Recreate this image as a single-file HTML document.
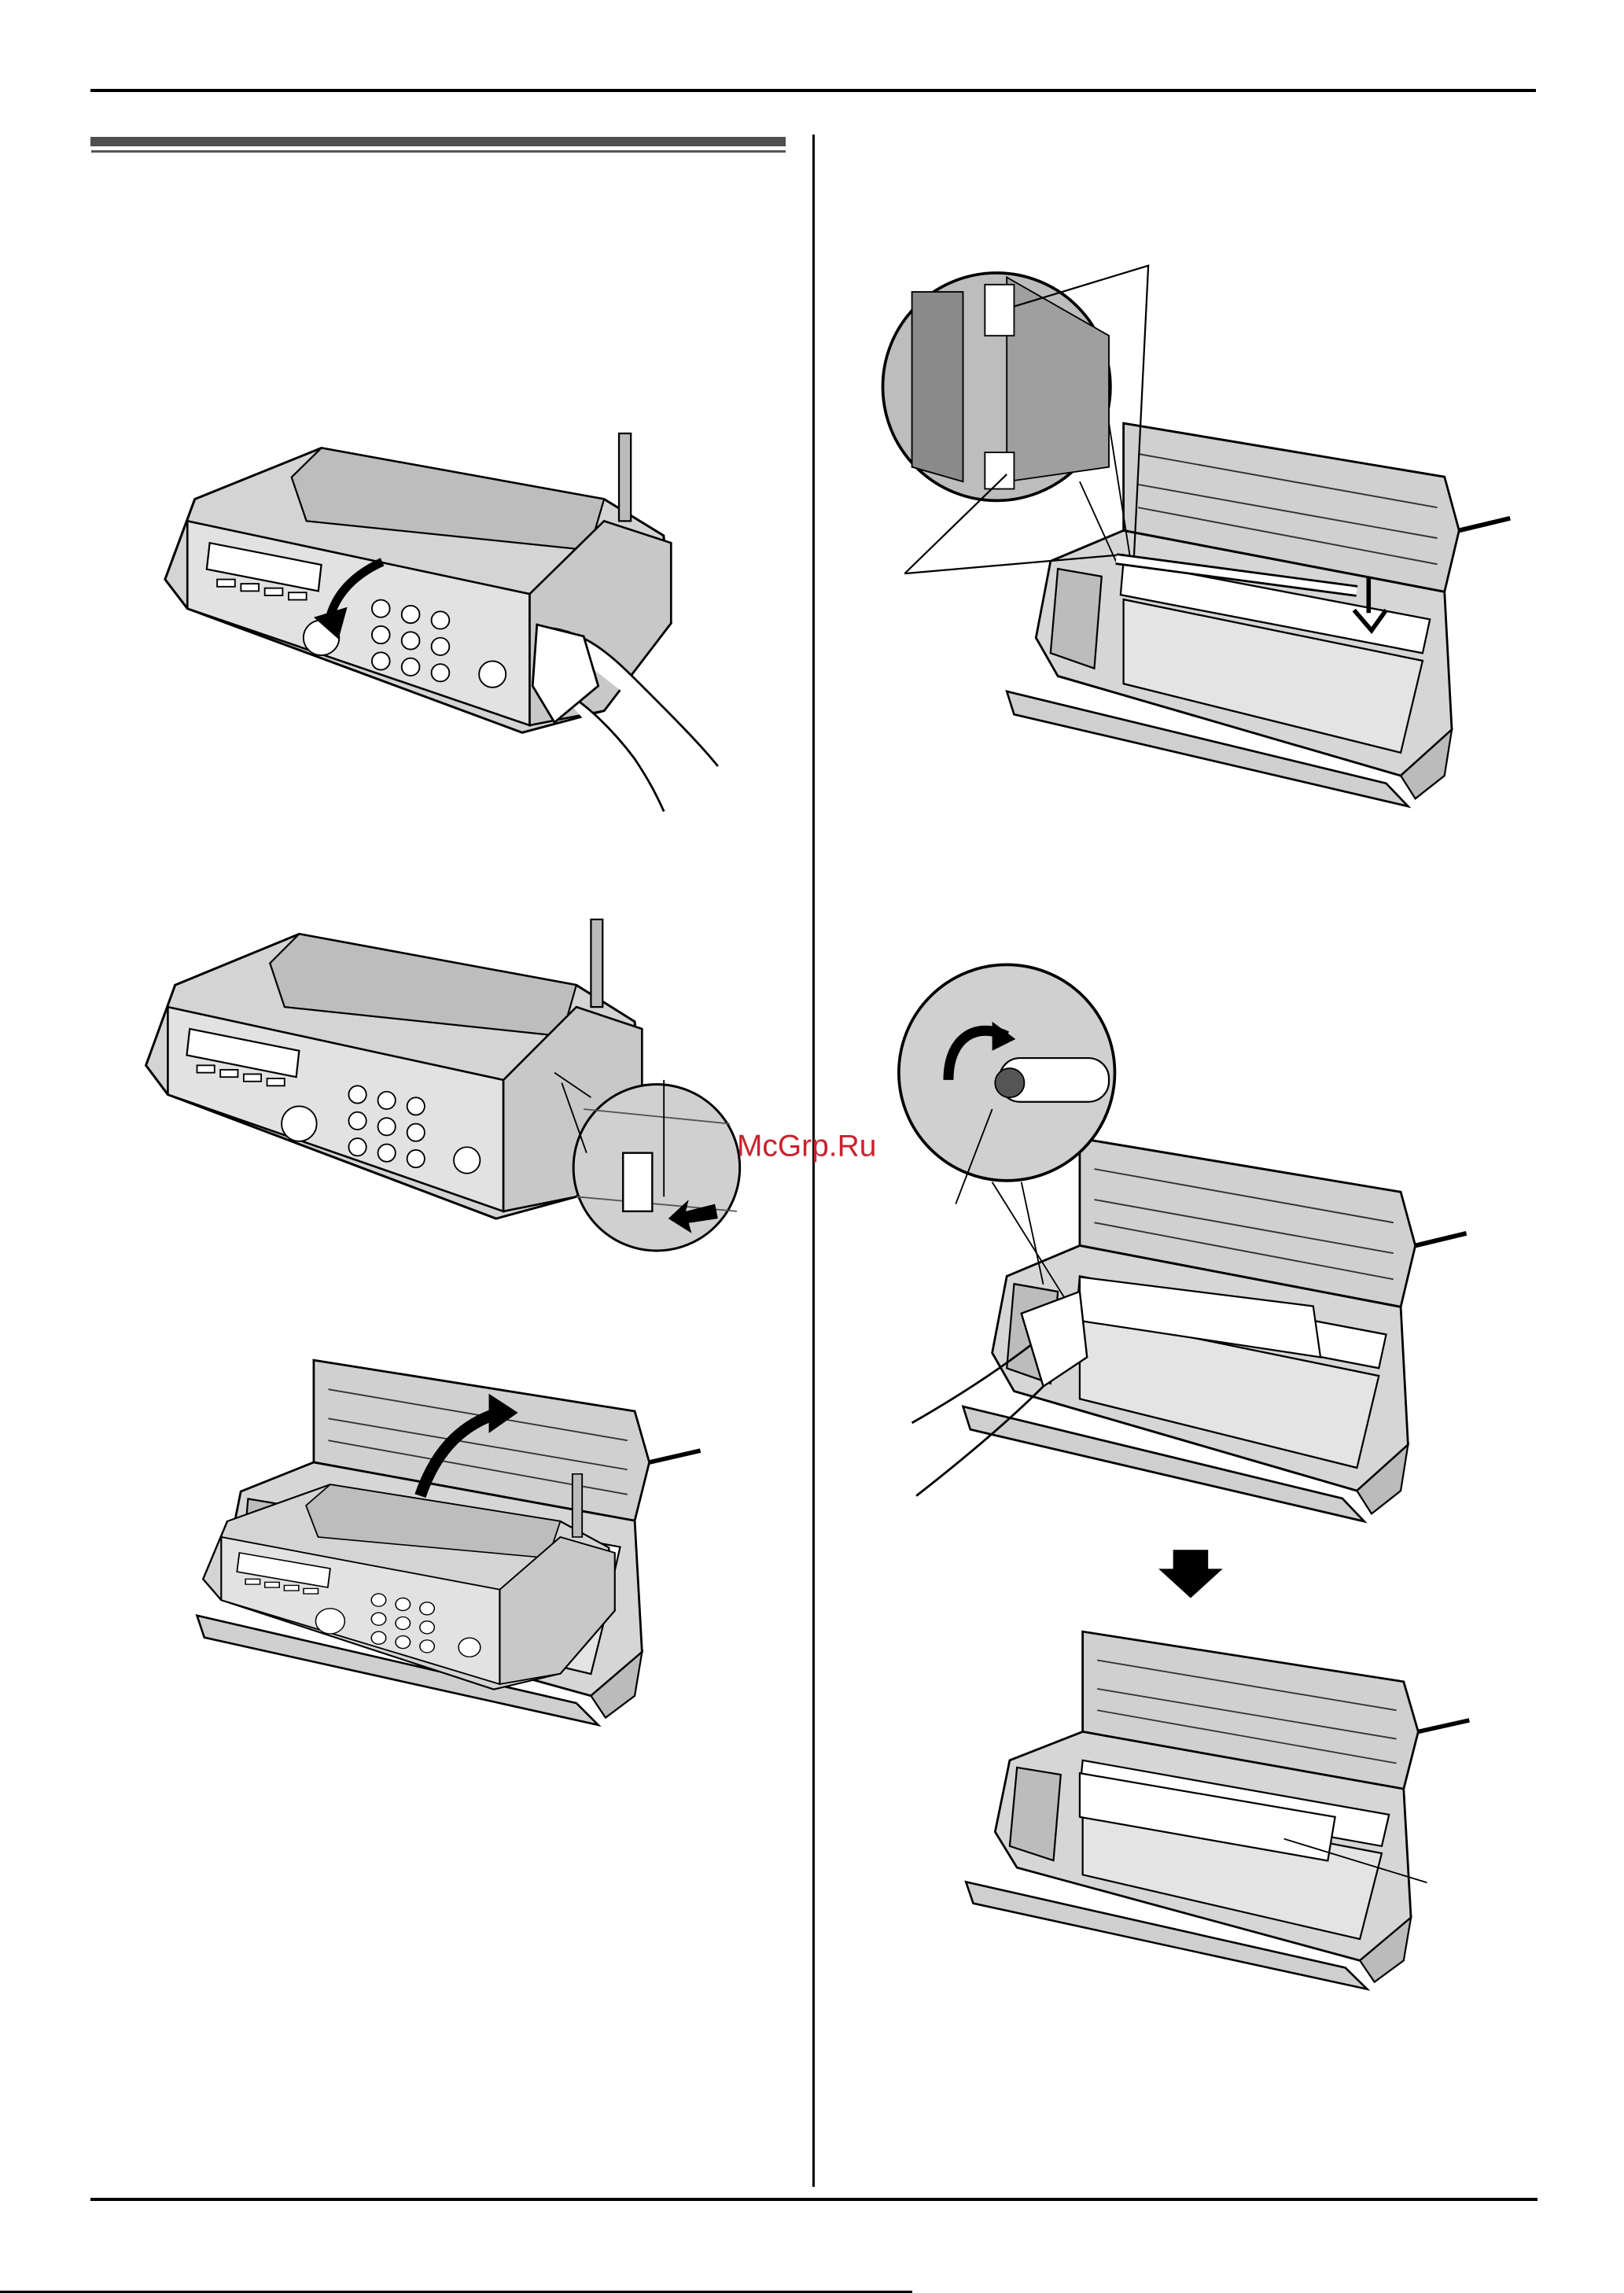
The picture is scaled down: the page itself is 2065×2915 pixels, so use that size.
<!DOCTYPE html>
<html><head><meta charset="utf-8"><style>
html,body{margin:0;padding:0;background:#fff;}
body{width:2065px;height:2915px;position:relative;overflow:hidden;font-family:"Liberation Sans",sans-serif;}
svg{position:absolute;left:0;top:0;}
</style></head><body>
<svg width="2065" height="2915" viewBox="0 0 2065 2915" xmlns="http://www.w3.org/2000/svg">
<rect x="115" y="113" width="1838" height="4" fill="#000"/>
<rect x="115" y="174" width="884" height="12" fill="#4f4f4f"/>
<rect x="116" y="191" width="883" height="3" fill="#555"/>
<rect x="1033" y="171" width="3" height="2609" fill="#000"/>
<rect x="115" y="2794" width="1840" height="4" fill="#000"/>
<rect x="0" y="2912" width="1160" height="3" fill="#000"/>
</svg>
<svg width="2065" height="2915" viewBox="0 0 1113 1571.2" xmlns="http://www.w3.org/2000/svg">
<defs>
<g id="fax">
<!-- closed fax body, local coords approx 0..400 x 0..260 -->
<path d="M25 45 L110 10 L300 45 L340 70 L345 130 L300 190 L245 205 L20 120 L5 100 Z" fill="#d4d4d4" stroke="#000" stroke-width="1.6"/>
<path d="M90 30 L110 10 L300 45 L290 80 L100 60 Z" fill="#bdbdbd" stroke="#000" stroke-width="1.2"/>
<path d="M20 60 L250 110 L250 200 L20 120 Z" fill="#e2e2e2" stroke="#000" stroke-width="1.4"/>
<path d="M35 75 L110 90 L108 108 L33 93 Z" fill="#fff" stroke="#000" stroke-width="1.2"/>
<g fill="#fff" stroke="#000" stroke-width="1">
<circle cx="150" cy="120" r="6"/><circle cx="170" cy="124" r="6"/><circle cx="190" cy="128" r="6"/>
<circle cx="150" cy="138" r="6"/><circle cx="170" cy="142" r="6"/><circle cx="190" cy="146" r="6"/>
<circle cx="150" cy="156" r="6"/><circle cx="170" cy="160" r="6"/><circle cx="190" cy="164" r="6"/>
<circle cx="110" cy="140" r="12"/><circle cx="225" cy="165" r="9"/>
<rect x="40" y="100" width="12" height="5"/><rect x="56" y="103" width="12" height="5"/><rect x="72" y="106" width="12" height="5"/><rect x="88" y="109" width="12" height="5"/>
</g>
<path d="M250 110 L300 60 L345 75 L345 130 L300 190 L250 200 Z" fill="#c8c8c8" stroke="#000" stroke-width="1.4"/>
<path d="M310 0 L318 0 L318 60 L310 60 Z" fill="#bbb" stroke="#000" stroke-width="1.2"/>
</g>
<g id="open">
<!-- open fax, local coords 0..340 x 0..240 -->
<path d="M80 0 L300 35 L310 70 L300 110 L80 70 Z" fill="#d0d0d0" stroke="#000" stroke-width="1.5"/>
<path d="M90 20 L295 55 M90 40 L295 75 M90 55 L295 92" stroke="#333" stroke-width="1" fill="none"/>
<path d="M310 70 L345 62" stroke="#000" stroke-width="3"/>
<path d="M30 90 L80 70 L300 110 L305 200 L270 230 L35 165 L20 140 Z" fill="#d6d6d6" stroke="#000" stroke-width="1.5"/>
<path d="M35 95 L65 100 L60 160 L30 150 Z" fill="#bcbcbc" stroke="#000" stroke-width="1.2"/>
<path d="M80 90 L290 128 L285 150 L78 112 Z" fill="#fff" stroke="#000" stroke-width="1.2"/>
<path d="M80 115 L285 155 L270 215 L80 170 Z" fill="#e4e4e4" stroke="#000" stroke-width="1.2"/>
<path d="M0 175 L260 235 L275 250 L5 190 Z" fill="#cfcfcf" stroke="#000" stroke-width="1.4"/>
<path d="M270 230 L305 200 L300 230 L280 245 Z" fill="#bbb" stroke="#000" stroke-width="1.2"/>
</g>
</defs>

<!-- left column fig1 -->
<use href="#fax" transform="translate(108,297) scale(1.02,1.0)"/>
<path d="M262 385 C240 395 228 410 225 428" stroke="#000" stroke-width="6" fill="none"/>
<path d="M215 423 L232 438 L238 416 Z" fill="#000"/>
<path d="M370 430 C400 430 420 450 440 470 C460 490 480 510 492 525 M380 470 C400 480 420 500 435 520 C445 535 450 545 455 556" stroke="#000" stroke-width="1.5" fill="#fff"/>
<path d="M368 428 L400 436 L410 470 L380 495 L365 470 Z" fill="#fff" stroke="#000" stroke-width="1.5"/>

<!-- left fig2 -->
<use href="#fax" transform="translate(95,630) scale(1.0,1.0)"/>
<circle cx="450" cy="800" r="57" fill="#d0d0d0" stroke="#000" stroke-width="1.6"/>
<path d="M400 760 L500 770 M395 820 L505 830" stroke="#555" stroke-width="1"/>
<rect x="427" y="790" width="20" height="40" fill="#fff" stroke="#000" stroke-width="1.3"/>
<path d="M490 825 L470 830 L472 822 L458 835 L474 845 L472 838 L492 835 Z" fill="#000"/>
<path d="M455 740 L455 820" stroke="#000" stroke-width="1"/>
<path d="M380 735 L405 752 M385 742 L402 790" stroke="#000" stroke-width="1"/>

<!-- left fig3 -->
<use href="#open" transform="translate(135,932) scale(1.0,1.0)"/>
<use href="#fax" transform="translate(135,1010) scale(0.83,0.72)"/>
<path d="M288 1025 C300 990 320 975 342 968" stroke="#000" stroke-width="8" fill="none"/>
<path d="M335 955 L355 968 L335 982 Z" fill="#000"/>

<!-- right fig1 -->
<use href="#open" transform="translate(690,290) scale(1.0,1.05)"/>
<circle cx="683" cy="265" r="78" fill="#bdbdbd" stroke="#000" stroke-width="2"/>
<path d="M690 190 L760 230 L760 320 L690 330 Z" fill="#9f9f9f" stroke="#000" stroke-width="1"/>
<path d="M625 200 L660 200 L660 330 L625 320 Z" fill="#8a8a8a" stroke="#000" stroke-width="1"/>
<rect x="675" y="195" width="20" height="35" fill="#fff" stroke="#000" stroke-width="1"/>
<rect x="675" y="310" width="20" height="25" fill="#fff" stroke="#000" stroke-width="1"/>
<path d="M740 330 L765 385 M760 290 L775 385" stroke="#000" stroke-width="1"/>
<path d="M695 210 L787 182 L777 385 M620 393 L690 325 M620 393 L770 380" stroke="#000" stroke-width="1.2" fill="none"/>
<path d="M765 383 L930 405" stroke="#000" stroke-width="8"/>
<path d="M765 383 L930 405" stroke="#fff" stroke-width="5"/>
<path d="M938 395 L938 420 M928 418 L940 432 L950 418" stroke="#000" stroke-width="3" fill="none"/>

<!-- right fig2 -->
<use href="#open" transform="translate(660,780) scale(1.0,1.05)"/>
<path d="M740 875 L900 895 L905 930 L740 905 Z" fill="#fff" stroke="#000" stroke-width="1.2"/>
<circle cx="690" cy="735" r="74" fill="#d0d0d0" stroke="#000" stroke-width="2"/>
<path d="M650 740 C650 710 670 700 690 710" stroke="#000" stroke-width="7" fill="none"/>
<path d="M680 700 L696 712 L680 720 Z" fill="#000"/>
<rect x="685" y="725" width="75" height="30" rx="14" fill="#fff" stroke="#000" stroke-width="1.2"/>
<circle cx="692" cy="742" r="10" fill="#555" stroke="#000"/>
<path d="M655 825 L680 760 M700 810 L715 880 M680 810 L730 890" stroke="#000" stroke-width="1"/>
<path d="M625 975 C660 955 690 935 715 915 M628 1025 C660 1000 690 975 715 950" stroke="#000" stroke-width="1.5" fill="none"/>
<path d="M700 900 L740 885 L745 930 L715 950 Z" fill="#fff" stroke="#000" stroke-width="1.3"/>

<!-- down arrow -->
<path d="M804 1062 L828 1062 L828 1075 L838 1075 L816 1095 L794 1075 L804 1075 Z" fill="#000"/>

<!-- right fig3 -->
<use href="#open" transform="translate(662,1118) scale(1.0,0.98)"/>
<path d="M740 1215 L915 1245 L910 1275 L740 1245 Z" fill="#fff" stroke="#000" stroke-width="1.2"/>
<path d="M880 1260 L978 1290" stroke="#000" stroke-width="1"/>

<text x="505" y="792" font-family="Liberation Sans, sans-serif" font-size="21" fill="#c8232c">McGrp.Ru</text>
</svg>
</body></html>
